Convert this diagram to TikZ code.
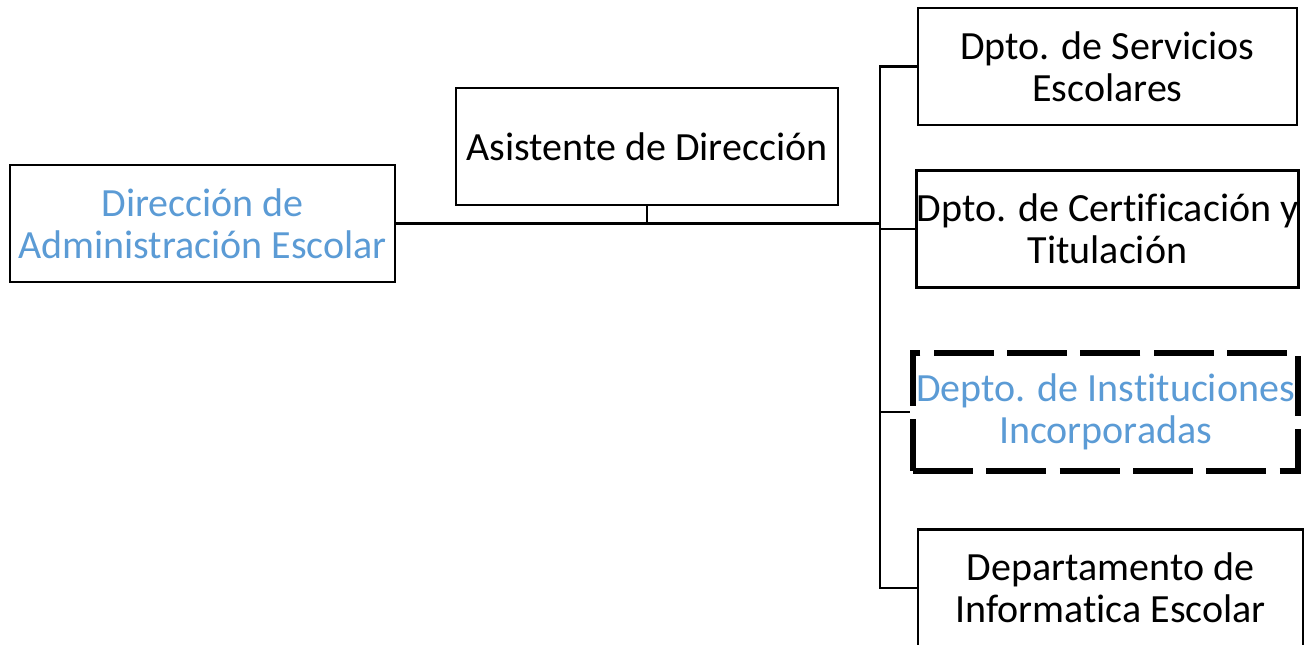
\documentclass[tikz,border=0pt]{standalone}
\usepackage{fontspec}
\setmainfont[Ligatures = NoCommon]{Carlito}
\definecolor{officeblue}{HTML}{5B9BD5}
\tikzset{
    unitbox/.style = {draw, line width = 1.8pt, align = center, inner sep = 0pt,
        minimum width = #1*0.75pt, minimum height = 88pt,
        font = \fontsize{30}{31.5}\selectfont},
    unitbox/.default = 382,
    plannedbox/.style = {unitbox = 385, line width = 4.5pt,
        dash pattern = on 45pt off 10pt, text = officeblue},
    orgline/.style = {line width = 1.8pt}
}
\begin{document}
\begin{tikzpicture}[x = 0.75pt, y = -0.75pt]
    \useasboundingbox (0, 0) rectangle (1308, 645);
    \node [unitbox = 385, text = officeblue] (dir) at (202.5, 223.5) {Dirección de\\Administración Escolar};
    \node [unitbox = 382] (asis) at (647, 146.5) {Asistente de Dirección};

    \node [unitbox = 379] (serv) at (1107.5, 66.5) {Dpto. de Servicios\\Escolares};
    \node [unitbox = 379] (cert) at (1107.5, 229) {Dpto. de Certificación y\\Titulación};
    \node [plannedbox] (inst) at (1105.5, 412) {Depto. de Instituciones\\Incorporadas};
    \node [unitbox = 385] (info) at (1110.5, 588) {Departamento de\\Informatica Escolar};

    \coordinate (trunktop) at (880, 66.5);
    \coordinate (trunkbot) at (880, 588);

    \draw [orgline] (dir.east) -- (trunktop |- dir.east);
    \draw [orgline] (asis.south) -- (asis.south |- dir.east);
    \draw [orgline] (serv.west) -- (trunktop) -- (trunkbot) -- (info.west);
    \draw [orgline] (trunktop |- cert.west) -- (cert.west);
    \draw [orgline] (trunktop |- inst.west) -- (inst.west);
\end{tikzpicture}
\end{document}
